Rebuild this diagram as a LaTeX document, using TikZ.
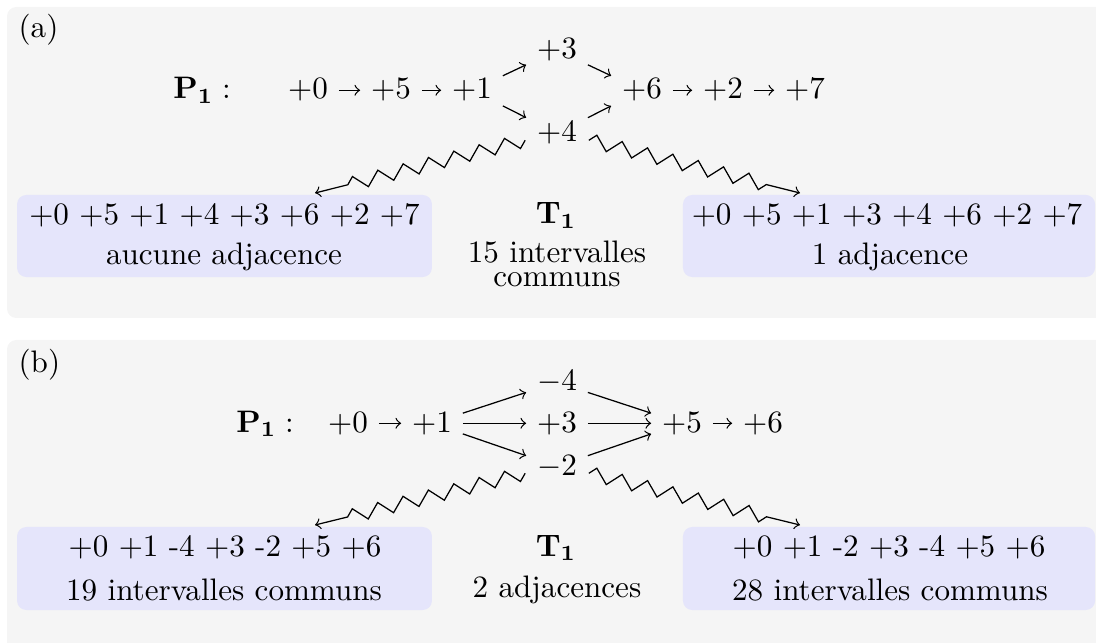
\documentclass[tikz,border=0pt]{standalone}
\usetikzlibrary{decorations.pathmorphing,calc}
\definecolor{panelbg}{RGB}{245,245,245}
\definecolor{boxbg}{RGB}{229,229,251}
\begin{document}
\begin{tikzpicture}[x=0.32154pt,y=-0.32154pt,
  el/.style={inner sep=3.33pt, text height=6.5pt, text depth=0.9pt, anchor=base},
  txt/.style={inner sep=0pt, anchor=base},
  arr/.style={->},
  wavy/.style={->, decorate, decoration={zigzag, segment length=8.4pt, amplitude=2.2pt, post length=10pt}},
  panel/.style={fill=panelbg, rounded corners=3pt},
  resbox/.style={fill=boxbg, rounded corners=3pt, inner sep=0pt}]
\useasboundingbox (0,0) rectangle (1096,643);
\clip (0,0) rectangle (1096,643);
% panels
\fill[panel] (7,7) rectangle (1130,318);
\fill[panel] (7,340) rectangle (1130,680);

% ---------------- (a)
\node[txt, anchor=base west] (la) at (18,38) {(a)};
\node[el] (pa) at (202,99) {$\mathbf{P_1}:$};
\node[el] (a0) at (308,99) {$+0$};
\node[el] (a5) at (391,99) {$+5$};
\node[el] (a1) at (472,99) {$+1$};
\node[el] (a3) at (557,59) {$+3$};
\node[el] (a4) at (557,142) {$+4$};
\node[el] (a6) at (642,99) {$+6$};
\node[el] (a2) at (723,99) {$+2$};
\node[el] (a7) at (805,99) {$+7$};
\draw[arr] (a0) -- (a5);
\draw[arr] (a5) -- (a1);
\draw[arr] (a1) -- (a3);
\draw[arr] (a1) -- (a4);
\draw[arr] (a3) -- (a6);
\draw[arr] (a4) -- (a6);
\draw[arr] (a6) -- (a2);
\draw[arr] (a2) -- (a7);

\node[resbox, minimum width=133.4pt, minimum height=26.4pt] (abl) at (224.5,236) {};
\node[resbox, minimum width=132.5pt, minimum height=26.4pt] (abr) at (889,236) {};
\node[txt] (abl1) at (224.5,225) {+0 +5 +1 +4 +3 +6 +2 +7};
\node[txt] (abl2) at (224,265) {aucune adjacence};
\node[txt] (abr1) at (887,225) {+0 +5 +1 +3 +4 +6 +2 +7};
\node[txt] (abr2) at (890,265) {1 adjacence};
\node[txt] (at1) at (556,224) {$\mathbf{T_1}$};
\node[txt] (at2) at (557,263) {15 intervalles};
\node[txt] (at3) at (557,287) {communs};

\coordinate (awl) at (315,193);
\coordinate (awr) at (800,193);
\draw[wavy] ($(a4.west)+(-1,7)$) -- (awl);
\draw[wavy] ($(a4.east)+(1,7)$) -- (awr);

% ---------------- (b)
\node[txt, anchor=base west] (lb) at (18,373) {(b)};
\node[el] (pb) at (265,432) {$\mathbf{P_1}:$};
\node[el] (b0) at (348,432) {$+0$};
\node[el] (b1) at (432,432) {$+1$};
\node[el] (bm4) at (557,391) {$-4$};
\node[el] (b3) at (557,432) {$+3$};
\node[el] (bm2) at (557,475) {$-2$};
\node[el] (b5) at (682,432) {$+5$};
\node[el] (b6) at (763,432) {$+6$};
\draw[arr] (b0) -- (b1);
\draw[arr] (b1) -- (bm4);
\draw[arr] (b1) -- (b3);
\draw[arr] (b1) -- (bm2);
\draw[arr] (bm4) -- (b5);
\draw[arr] (b3) -- (b5);
\draw[arr] (bm2) -- (b5);
\draw[arr] (b5) -- (b6);

\node[resbox, minimum width=133.4pt, minimum height=26.7pt] (bbl) at (224.5,568.5) {};
\node[resbox, minimum width=132.5pt, minimum height=26.7pt] (bbr) at (889,568.5) {};
\node[txt] (bbl1) at (225,556) {+0 +1 -4 +3 -2 +5 +6};
\node[txt] (bbl2) at (224,600) {19 intervalles communs};
\node[txt] (bbr1) at (889,556) {+0 +1 -2 +3 -4 +5 +6};
\node[txt] (bbr2) at (890,600) {28 intervalles communs};
\node[txt] (bt1) at (556,556) {$\mathbf{T_1}$};
\node[txt] (bt2) at (557,597) {2 adjacences};

\coordinate (bwl) at (315,525);
\coordinate (bwr) at (800,525);
\draw[wavy] ($(bm2.west)+(-1,7)$) -- (bwl);
\draw[wavy] ($(bm2.east)+(1,7)$) -- (bwr);
\end{tikzpicture}
\end{document}
